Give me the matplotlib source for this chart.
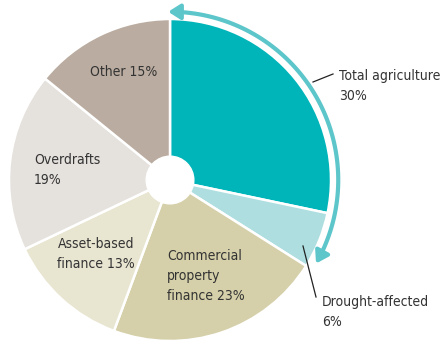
import numpy as np
import matplotlib
matplotlib.use("Agg")
import matplotlib.pyplot as plt
from matplotlib.patches import Circle, FancyArrowPatch
from matplotlib.path import Path

# Частки кредитного портфеля, %
labels = ["Total agriculture", "Drought-affected", "Commercial property finance",
          "Asset-based finance", "Overdrafts", "Other"]
values = [30, 6, 23, 13, 19, 15]
colors = ["#00B5B9", "#AEDEE0", "#D5D0A9", "#E8E5D1", "#E5E1DD", "#BAACA0"]

plt.rcParams["font.family"] = ["DejaVu Sans"]
plt.rcParams["font.stretch"] = "condensed"
TXT = "#333333"

W, H, R = 442, 344, 161.0
cx, cy = 170, 180


def px(x, y):
    # пікселі -> координати даних (радіус пирога = 1)
    return (x - cx) / R, (cy - y) / R


fig = plt.figure(figsize=(W / 100, H / 100), dpi=100)
ax = fig.add_axes([0, 0, 1, 1])

wedges, _ = ax.pie(values, colors=colors, startangle=90, counterclock=False,
                   radius=1.0, center=(0, 0), frame=True,
                   wedgeprops=dict(edgecolor="white", linewidth=1.8))
ax.set_xlim(-cx / R, (W - cx) / R)
ax.set_ylim(-(H - cy) / R, cy / R)
ax.set_aspect("auto")
ax.axis("off")
ax.add_patch(Circle((0, 0), 0.148, color="white", zorder=5))

# дуга зі стрілками над сектором сільського господарства
total = sum(values)
a0 = 90 + 0.6
a1 = 90 - 360 * (values[0] + values[1]) / total + 2.5
t = np.deg2rad(np.linspace(a0, a1, 80))
rr = 1.045
arc = Path(np.column_stack([rr * np.cos(t), rr * np.sin(t)]))
ax.add_patch(FancyArrowPatch(path=arc, arrowstyle="<|-|>,head_length=0.5,head_width=0.32",
                             mutation_scale=14, color="#5CC6CA", linewidth=3.0,
                             zorder=6))

fs = 10
ls = 1.5
ax.plot(*zip(px(313, 82), px(333, 74)), color="#222222", lw=0.9)
ax.text(*px(339, 86), "Total agriculture\n30%", fontsize=fs, color=TXT,
        va="center", ha="left", linespacing=ls)

ax.plot(*zip(px(303, 246), px(316, 297)), color="#222222", lw=0.9)
ax.text(*px(322, 312), "Drought-affected\n6%", fontsize=fs, color=TXT,
        va="center", ha="left", linespacing=ls)

ax.text(*px(124, 72), "Other 15%", fontsize=fs, color=TXT, ha="center", va="center")
ax.text(*px(34, 170), "Overdrafts\n19%", fontsize=fs, color=TXT,
        ha="left", va="center", linespacing=ls)
ax.text(*px(96, 254), "Asset-based\nfinance 13%", fontsize=fs, color=TXT,
        ha="center", va="center", linespacing=ls)
ax.text(*px(167, 276), "Commercial\nproperty\nfinance 23%", fontsize=fs, color=TXT,
        ha="left", va="center", linespacing=ls)

fig.savefig("out.png", dpi=100)
